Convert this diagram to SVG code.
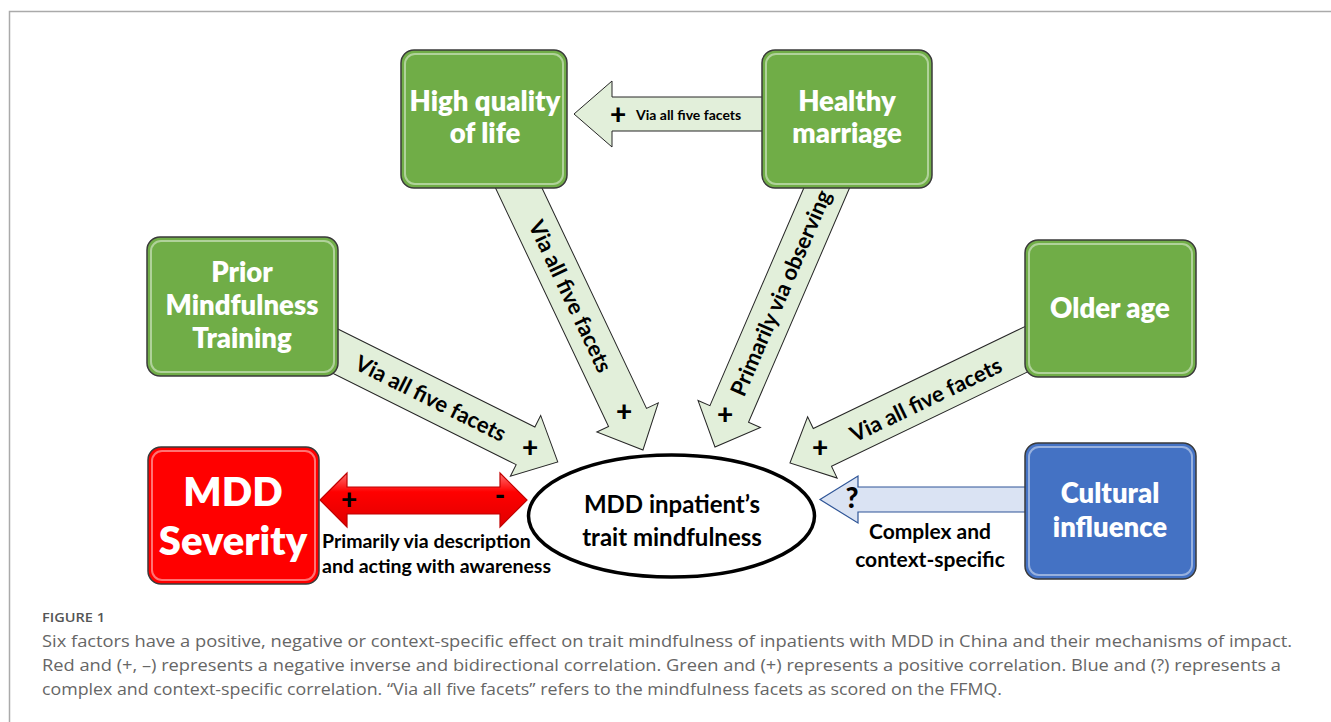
<svg xmlns="http://www.w3.org/2000/svg" width="1331" height="722" viewBox="0 0 1331 722">
<defs>
<style>
.box{stroke:#3a3a3a;stroke-width:1.5}
.g{fill:#70ad47}
.r{fill:#ff0000}
.b{fill:#4472c4}
.hl{fill:none;stroke:#ffffff;stroke-opacity:0.45;stroke-width:2}
.bt{font-family:Lato,"Liberation Sans",sans-serif;font-weight:800;fill:#ffffff;text-anchor:middle}
.ga{fill:#e2efda;stroke:#262626;stroke-width:1}
.lb{font-family:Lato,"Liberation Sans",sans-serif;font-weight:700;fill:#000000}
.pl{font-family:Lato,"Liberation Sans",sans-serif;font-weight:900;fill:#000000;text-anchor:middle;font-size:28px}
.cap{font-family:"Open Sans","Liberation Sans",sans-serif;fill:#666666;font-size:16px}
</style>
<linearGradient id="redg" x1="0" y1="0" x2="0" y2="1">
<stop offset="0" stop-color="#ff7070"/>
<stop offset="0.35" stop-color="#ff0000"/>
<stop offset="1" stop-color="#e00000"/>
</linearGradient>
</defs>
<rect x="0" y="0" width="1331" height="722" fill="#ffffff"/>
<path d="M9.5,722 V11.5 H1331" fill="none" stroke="#aaaaaa" stroke-width="1.5"/>

<g id="connectors">
<polygon class="ga" points="770,97 612,97 612,81 574,114 612,147 612,131 770,131"/>
<polygon class="ga" transform="translate(325,346) rotate(26.47)" points="0,-21 224,-21 224,-34 260,0 224,34 224,21 0,21"/>
<polygon class="ga" transform="translate(514,178) rotate(64.63)" points="0,-21 265,-21 265,-34 301,0 265,34 265,21 0,21"/>
<polygon class="ga" transform="translate(831,178) rotate(113.33)" points="0,-21 257,-21 257,-34 293,0 257,34 257,21 0,21"/>
<polygon class="ga" transform="translate(1035,345) rotate(154.28)" points="0,-21 236,-21 236,-34 272,0 236,34 236,21 0,21"/>
<polygon points="1035,487 858,487 858,476 820,499.5 858,523 858,512 1035,512" fill="#dae3f3" stroke="#2f5597" stroke-width="1.2"/>
<polygon points="320,500 347,473 347,487 500,487 500,473 527,500 500,527 500,514 347,514 347,527" fill="url(#redg)" stroke="#c00000" stroke-width="1.2"/>

<text class="pl" x="618" y="124">+</text>
<text class="lb" x="636" y="120" font-size="14px">Via all five facets</text>

<text class="lb" transform="translate(325,346) rotate(26.47)" x="118" y="7.5" font-size="22px" text-anchor="middle">Via all five facets</text>
<text class="pl" x="530" y="457">+</text>

<text class="lb" transform="translate(514,178) rotate(64.63)" x="131" y="7.5" font-size="22px" text-anchor="middle">Via all five facets</text>
<text class="pl" x="624" y="421">+</text>

<text class="lb" transform="translate(781,293) rotate(-66.67)" x="0" y="7.5" font-size="22px" text-anchor="middle">Primarily via observing</text>
<text class="pl" x="725" y="424">+</text>

<text class="lb" transform="translate(926,400) rotate(-25.72)" x="0" y="7.5" font-size="22px" text-anchor="middle">Via all five facets</text>
<text class="pl" x="820" y="457">+</text>

<text class="pl" x="852" y="508">?</text>
<text class="pl" x="349" y="509">+</text>
<text class="pl" x="500" y="505">-</text>

<text class="lb" x="322" y="548" font-size="19.5px">Primarily via description</text>
<text class="lb" x="322" y="573" font-size="19.5px">and acting with awareness</text>
<text class="lb" x="930" y="539" font-size="21px" text-anchor="middle">Complex and</text>
<text class="lb" x="930" y="567" font-size="21px" text-anchor="middle">context-specific</text>
</g>

<g id="node-quality">
<rect class="box g" x="401" y="50" width="166" height="138" rx="13"/>
<rect class="hl" x="405" y="54" width="158" height="130" rx="10"/>
<text class="bt" x="485" y="111" font-size="27.5px">High quality</text>
<text class="bt" x="485" y="143" font-size="27.5px">of life</text>
</g>

<g id="node-marriage">
<rect class="box g" x="762" y="50" width="170" height="138" rx="13"/>
<rect class="hl" x="766" y="54" width="162" height="130" rx="10"/>
<text class="bt" x="847" y="111" font-size="27.5px">Healthy</text>
<text class="bt" x="847" y="143" font-size="27.5px">marriage</text>
</g>

<g id="node-prior">
<rect class="box g" x="147" y="237" width="191" height="139" rx="13"/>
<rect class="hl" x="151" y="241" width="183" height="131" rx="10"/>
<text class="bt" x="242" y="282" font-size="27.5px">Prior</text>
<text class="bt" x="242" y="315" font-size="27.5px">Mindfulness</text>
<text class="bt" x="242" y="348" font-size="27.5px">Training</text>
</g>

<g id="node-older">
<rect class="box g" x="1025" y="240" width="171" height="137" rx="13"/>
<rect class="hl" x="1029" y="244" width="163" height="129" rx="10"/>
<text class="bt" x="1110" y="318" font-size="27.5px">Older age</text>
</g>

<g id="node-severity">
<rect class="box r" x="148" y="447" width="171" height="137" rx="13"/>
<rect class="hl" x="152" y="451" width="163" height="129" rx="10"/>
<text class="bt" x="233" y="506" font-size="40px">MDD</text>
<text class="bt" x="233" y="555" font-size="40px">Severity</text>
</g>

<g id="node-cultural">
<rect class="box b" x="1025" y="443" width="171" height="136" rx="13"/>
<rect class="hl" x="1029" y="447" width="163" height="128" rx="10"/>
<text class="bt" x="1110" y="503" font-size="27.5px">Cultural</text>
<text class="bt" x="1110" y="537" font-size="27.5px">influence</text>
</g>

<g id="node-center">
<ellipse cx="671.5" cy="516" rx="143" ry="61" fill="#ffffff" stroke="#000000" stroke-width="3.5"/>
<text class="lb" x="672" y="513" font-size="24px" text-anchor="middle">MDD inpatient’s</text>
<text class="lb" x="672" y="546" font-size="24px" text-anchor="middle">trait mindfulness</text>
</g>

<g id="caption">
<text x="42" y="622" font-family="'Open Sans','Liberation Sans',sans-serif" font-weight="600" font-size="12.5px" fill="#555555" textLength="63" lengthAdjust="spacingAndGlyphs">FIGURE 1</text>
<text class="cap" x="42" y="647" textLength="1250" lengthAdjust="spacingAndGlyphs">Six factors have a positive, negative or context-specific effect on trait mindfulness of inpatients with MDD in China and their mechanisms of impact.</text>
<text class="cap" x="42" y="671" textLength="1239" lengthAdjust="spacingAndGlyphs">Red and (+, –) represents a negative inverse and bidirectional correlation. Green and (+) represents a positive correlation. Blue and (?) represents a</text>
<text class="cap" x="42" y="695" textLength="960" lengthAdjust="spacingAndGlyphs">complex and context-specific correlation. “Via all five facets” refers to the mindfulness facets as scored on the FFMQ.</text>
</g>
</svg>
